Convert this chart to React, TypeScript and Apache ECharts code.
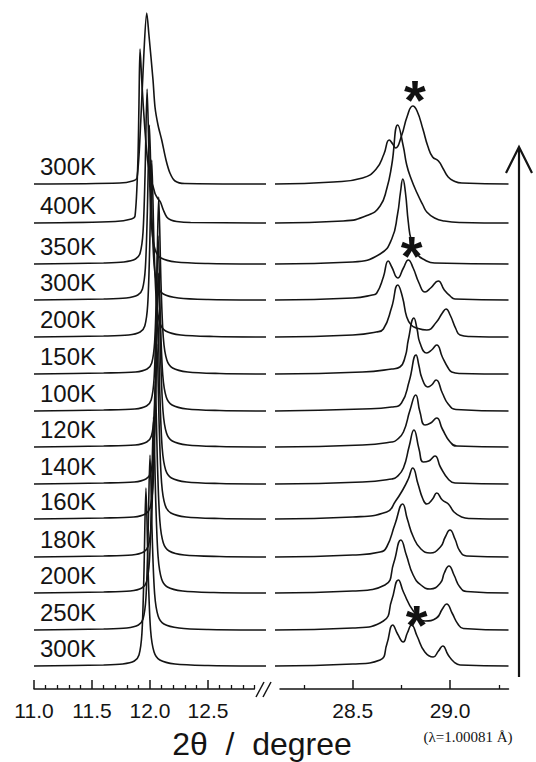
import { useEffect, useRef } from 'react';
import * as echarts from 'echarts';

// Temperature labels, top to bottom
const temperatures = ['300K', '400K', '350K', '300K', '200K', '150K', '100K', '120K', '140K', '160K', '180K', '200K', '250K', '300K'];
// Vertical stacking offset of each pattern (same order)
const offsets = [505, 466, 425, 389, 352, 315, 278, 242, 205, 170, 132, 96, 59, 23];

// Each pattern: [2θ (deg), intensity above its own baseline]
const pat300K_top = [
  [11.0, 0], [11.74, 1], [11.85, 3], [11.888, 6], [11.92, 62], [11.948, 132], [11.972, 171], [11.99, 150], [12.026, 104], [12.043, 77], [12.069, 59], [12.101, 44], [12.138, 24], [12.172, 11], [12.216, 3], [12.3, 0.5], [13.0, 0],
  [28.1, 0], [28.4, 2], [28.55, 6], [28.62, 15], [28.66, 30], [28.687, 44], [28.705, 40], [28.72, 36], [28.75, 48], [28.78, 68], [28.808, 78], [28.83, 73], [28.86, 55], [28.885, 38], [28.91, 27], [28.94, 23], [28.965, 15], [28.99, 7], [29.02, 3], [29.06, 1], [29.3, 0],
];
const pat400K = [
  [11.0, 0], [11.7, 1.5], [11.84, 4], [11.871, 7], [11.895, 60], [11.905, 120], [11.914, 174], [11.93, 140], [11.955, 95], [11.98, 62], [12.01, 42], [12.028, 36], [12.045, 29], [12.07, 24], [12.09, 21], [12.115, 13], [12.144, 6], [12.18, 3], [12.23, 1.5], [12.35, 0.5], [13.0, 0],
  [28.1, 0], [28.45, 2], [28.58, 8], [28.64, 17], [28.674, 34], [28.7, 58], [28.731, 98], [28.759, 77], [28.777, 58], [28.8, 44], [28.83, 30], [28.86, 18], [28.88, 11], [28.92, 5], [28.97, 2], [29.05, 0.5], [29.3, 0],
];
const pat350K = [
  [11.0, 0], [11.6, 1], [11.775, 2], [11.875, 5], [11.915, 11], [11.94, 32], [11.957, 88], [11.975, 175], [11.995, 90], [12.015, 36], [12.045, 14], [12.095, 6], [12.225, 2], [12.5, 0.5], [13.0, 0],
  [28.1, 0], [28.5, 2], [28.64, 10], [28.7, 25], [28.73, 50], [28.745, 72], [28.757, 85], [28.77, 72], [28.785, 42], [28.8, 24], [28.83, 10], [28.87, 4], [28.92, 1], [29.3, 0],
];
const pat300K_b = [
  [11.0, 0], [11.6, 1], [11.795, 2], [11.895, 5], [11.935, 11], [11.96, 32], [11.977, 88], [11.995, 175], [12.015, 90], [12.035, 36], [12.065, 14], [12.115, 6], [12.245, 2], [12.5, 0.5], [13.0, 0],
  [28.1, 0], [28.5, 2], [28.6, 5], [28.623, 7], [28.657, 23], [28.682, 39], [28.7, 33], [28.731, 22], [28.76, 32], [28.785, 40], [28.81, 32], [28.84, 17], [28.871, 8], [28.9, 12], [28.939, 19], [28.97, 10], [29.0, 4], [29.025, 1], [29.3, 0],
];
const pat200K_a = [
  [11.0, 0], [11.6, 1], [11.815, 2], [11.915, 5], [11.955, 11], [11.98, 32], [11.997, 88], [12.015, 177], [12.035, 90], [12.055, 36], [12.085, 14], [12.135, 6], [12.265, 2], [12.55, 0.5], [13.0, 0],
  [28.1, 0], [28.5, 2], [28.62, 5], [28.657, 8], [28.7, 30], [28.731, 52], [28.755, 40], [28.777, 20], [28.8, 12], [28.828, 9], [28.88, 7], [28.93, 15], [28.96, 24], [28.979, 28], [29.0, 22], [29.03, 8], [29.051, 2], [29.1, 0.5], [29.3, 0],
];
const pat150K = [
  [11.0, 0], [11.6, 1], [11.875, 2], [11.975, 5], [12.015, 11], [12.04, 32], [12.057, 88], [12.075, 177], [12.095, 90], [12.115, 36], [12.145, 14], [12.195, 6], [12.325, 2], [12.6, 0.5], [13.0, 0],
  [28.1, 0], [28.55, 2], [28.7, 5], [28.742, 7], [28.77, 18], [28.785, 34], [28.814, 56], [28.83, 45], [28.845, 31], [28.88, 21], [28.905, 24], [28.931, 29], [28.96, 17], [28.99, 6], [29.008, 2], [29.05, 0.5], [29.3, 0],
];
const pat100K = [
  [11.0, 0], [11.6, 1], [11.87, 2], [11.97, 5], [12.01, 11], [12.035, 32], [12.052, 88], [12.07, 175], [12.09, 90], [12.11, 36], [12.14, 14], [12.19, 6], [12.32, 2], [12.6, 0.5], [13.0, 0],
  [28.1, 0], [28.55, 2], [28.7, 4], [28.75, 8], [28.79, 30], [28.825, 56], [28.84, 45], [28.855, 33], [28.885, 24], [28.905, 26], [28.928, 31], [28.96, 18], [28.99, 7], [29.03, 1.5], [29.3, 0],
];
const pat120K = [
  [11.0, 0], [11.6, 1], [11.872, 2], [11.972, 5], [12.012, 11], [12.037, 32], [12.054, 87], [12.072, 174], [12.092, 89], [12.112, 36], [12.142, 14], [12.192, 6], [12.322, 2], [12.6, 0.5], [13.0, 0],
  [28.1, 0], [28.55, 2], [28.7, 5], [28.725, 7], [28.76, 15], [28.794, 37], [28.823, 52], [28.845, 35], [28.871, 22], [28.9, 24], [28.931, 29], [28.96, 18], [29.0, 5], [29.034, 1], [29.3, 0],
];
const pat140K = [
  [11.0, 0], [11.6, 1], [11.865, 2], [11.965, 5], [12.005, 11], [12.03, 32], [12.047, 88], [12.065, 175], [12.085, 90], [12.105, 36], [12.135, 14], [12.185, 6], [12.315, 2], [12.6, 0.5], [13.0, 0],
  [28.1, 0], [28.55, 2], [28.7, 5], [28.725, 7], [28.76, 16], [28.79, 38], [28.814, 54], [28.84, 35], [28.862, 22], [28.89, 23], [28.922, 28], [28.95, 17], [28.99, 5], [29.025, 1], [29.3, 0],
];
const pat160K = [
  [11.0, 0], [11.6, 1], [11.86, 2], [11.96, 5], [12.0, 11], [12.025, 32], [12.042, 88], [12.06, 175], [12.08, 90], [12.1, 36], [12.13, 14], [12.18, 6], [12.31, 2], [12.6, 0.5], [13.0, 0],
  [28.1, 0], [28.5, 2], [28.674, 7], [28.72, 18], [28.759, 30], [28.785, 40], [28.808, 51], [28.835, 35], [28.86, 20], [28.88, 15], [28.91, 20], [28.931, 26], [28.96, 19], [28.991, 15], [29.02, 7], [29.059, 2], [29.1, 0.5], [29.3, 0],
];
const pat180K = [
  [11.0, 0], [11.6, 1], [11.845, 2], [11.945, 5], [11.985, 11], [12.01, 32], [12.027, 88], [12.045, 176], [12.065, 90], [12.085, 36], [12.115, 14], [12.165, 6], [12.295, 2], [12.6, 0.5], [13.0, 0],
  [28.1, 0], [28.5, 2], [28.64, 5], [28.674, 10], [28.717, 33], [28.756, 53], [28.78, 38], [28.811, 20], [28.85, 8], [28.897, 4], [28.95, 10], [28.975, 20], [28.999, 27], [29.025, 18], [29.05, 6], [29.085, 1], [29.3, 0],
];
const pat200K_b = [
  [11.0, 0], [11.6, 1], [11.83, 2], [11.93, 5], [11.97, 11], [11.995, 32], [12.012, 88], [12.03, 176], [12.05, 90], [12.07, 36], [12.1, 14], [12.15, 6], [12.28, 2], [12.55, 0.5], [13.0, 0],
  [28.1, 0], [28.5, 2], [28.665, 8], [28.71, 30], [28.747, 53], [28.775, 38], [28.81, 18], [28.85, 8], [28.897, 4], [28.95, 10], [28.97, 20], [28.994, 27], [29.02, 18], [29.05, 6], [29.085, 1.5], [29.3, 0],
];
const pat250K = [
  [11.0, 0], [11.6, 1], [11.8, 2], [11.9, 5], [11.94, 11], [11.965, 32], [11.982, 88], [12.0, 175], [12.02, 90], [12.04, 36], [12.07, 14], [12.12, 6], [12.25, 2], [12.5, 0.5], [13.0, 0],
  [28.1, 0], [28.5, 2], [28.657, 9], [28.7, 30], [28.734, 50], [28.76, 38], [28.811, 19], [28.871, 9], [28.93, 12], [28.96, 21], [28.982, 26], [29.01, 17], [29.04, 6], [29.068, 1.5], [29.3, 0],
];
const pat300K_c = [
  [11.0, 0], [11.6, 1], [11.765, 2], [11.865, 5], [11.905, 11], [11.93, 32], [11.947, 89], [11.965, 178], [11.985, 91], [12.005, 36], [12.035, 14], [12.085, 6], [12.215, 2], [12.5, 0.5], [13.0, 0],
  [28.1, 0], [28.5, 2], [28.64, 6], [28.675, 22], [28.705, 41], [28.73, 32], [28.759, 24], [28.78, 33], [28.802, 41], [28.83, 30], [28.87, 14], [28.913, 9], [28.94, 15], [28.962, 20], [28.99, 11], [29.02, 4], [29.051, 1], [29.3, 0],
];

const patterns = [pat300K_top, pat400K, pat350K, pat300K_b, pat200K_a, pat150K, pat100K, pat120K, pat140K, pat160K, pat180K, pat200K_b, pat250K, pat300K_c];

// Axis ticks
const leftMajorTicks = [11.0, 11.5, 12.0, 12.5];
const leftMinorTicks = [11.1, 11.2, 11.3, 11.4, 11.6, 11.7, 11.8, 11.9, 12.1, 12.2, 12.3, 12.4, 12.6, 12.7, 12.8, 12.9];
const rightMajorTicks = [28.5, 29.0];
const rightMinorTicks = [28.25, 28.75, 29.25];

// Asterisk annotations: [2θ, height]
const asterisks = [[28.819, 597], [28.802, 441], [28.828, 72]];

const INK = '#141414';
const FONT = '"Liberation Sans", Arial, sans-serif';

export default function App() {
  const ref = useRef<HTMLDivElement>(null);
  useEffect(() => {
    if (!ref.current) return;
    const chart = echarts.init(ref.current, null, { renderer: 'svg' });
    const series: any[] = [];
    patterns.forEach((pat, i) => {
      const left = pat.filter((p) => p[0] < 20).map((p) => [p[0], p[1] + offsets[i]]);
      const right = pat.filter((p) => p[0] > 20).map((p) => [p[0], p[1] + offsets[i]]);
      const common = {
        type: 'line', showSymbol: false, silent: true,
        lineStyle: { color: INK, width: 1.6 },
      };
      series.push({ ...common, smooth: 0.3, xAxisIndex: 0, yAxisIndex: 0, data: left });
      series.push({ ...common, smooth: 0.5, xAxisIndex: 1, yAxisIndex: 1, data: right });
    });
    series.push({
      type: 'scatter', xAxisIndex: 0, yAxisIndex: 0, symbolSize: 0, silent: true,
      itemStyle: { opacity: 1 },
      data: temperatures.map((t, i) => ({ name: t, value: [11.0, offsets[i] + 18] })),
      label: { show: true, position: 'right', distance: 6, formatter: '{b}', fontSize: 24, color: INK, opacity: 1, fontFamily: FONT, textBorderWidth: 0 },
    });
    series.push({
      type: 'scatter', xAxisIndex: 1, yAxisIndex: 1, symbolSize: 0, silent: true,
      itemStyle: { opacity: 1 },
      data: asterisks,
      label: { show: true, position: 'inside', formatter: '*', fontSize: 56, fontWeight: 'bold', color: '#111', opacity: 1, textBorderWidth: 0, fontFamily: FONT, offset: [0, 7] },
    });

    const hiddenX = (grid: number, min: number, max: number) => ({ type: 'value', gridIndex: grid, min, max, show: false });
    const majorAxis = (grid: number, min: number, max: number, ticks: number[]) => ({
      type: 'value', gridIndex: grid, min, max, position: 'bottom',
      axisLine: { show: true, onZero: false, lineStyle: { color: INK, width: 1.5 } },
      axisTick: { show: true, inside: true, length: 9, customValues: ticks, lineStyle: { color: INK, width: 1.5 } },
      axisLabel: { show: true, customValues: ticks, formatter: (v: number) => v.toFixed(1), fontSize: 21, color: INK, fontFamily: FONT, margin: 11 },
      splitLine: { show: false },
    });
    const minorAxis = (grid: number, min: number, max: number, ticks: number[]) => ({
      type: 'value', gridIndex: grid, min, max, position: 'bottom',
      axisLine: { show: false, onZero: false },
      axisTick: { show: true, inside: true, length: 4, customValues: ticks, lineStyle: { color: INK, width: 1.3 } },
      axisLabel: { show: false },
      splitLine: { show: false },
    });
    const hiddenY = (grid: number) => ({ type: 'value', gridIndex: grid, min: 0, max: 689, show: false });

    chart.setOption({
      animation: false,
      backgroundColor: '#ffffff',
      textStyle: { fontFamily: FONT },
      grid: [
        { left: 34, width: 232, top: 0, bottom: 73 },
        { left: 275, width: 233.5, top: 0, bottom: 73 },
        { left: 34, width: 220.4, top: 0, bottom: 73 },
        { left: 280, width: 228.5, top: 0, bottom: 73 },
      ],
      xAxis: [
        hiddenX(0, 11.0, 13.0),
        hiddenX(1, 28.1, 29.3),
        majorAxis(2, 11.0, 12.9, leftMajorTicks),
        minorAxis(2, 11.0, 12.9, leftMinorTicks),
        majorAxis(3, 28.126, 29.3, rightMajorTicks),
        minorAxis(3, 28.126, 29.3, rightMinorTicks),
      ],
      yAxis: [hiddenY(0), hiddenY(1), hiddenY(2), hiddenY(3)],
      series,
      graphic: [
        { type: 'line', shape: { x1: 519, y1: 677, x2: 519, y2: 148 }, style: { stroke: INK, lineWidth: 2.2 } },
        { type: 'polyline', shape: { points: [[506, 173], [519, 147], [532, 173]] }, style: { stroke: INK, lineWidth: 2.2, fill: 'none' } },
        { type: 'line', shape: { x1: 256, y1: 697, x2: 264, y2: 682 }, style: { stroke: INK, lineWidth: 1.5 } },
        { type: 'line', shape: { x1: 263, y1: 697, x2: 271, y2: 682 }, style: { stroke: INK, lineWidth: 1.5 } },
        { type: 'text', x: 262, y: 744, style: { text: '2θ  /  degree', font: `32px ${FONT}`, fill: INK, align: 'center', verticalAlign: 'middle' } },
        { type: 'text', x: 468, y: 737, style: { text: '(λ=1.00081 Å)', font: '15px "Liberation Serif", "Times New Roman", serif', fill: INK, align: 'center', verticalAlign: 'middle' } },
      ],
    });
    return () => chart.dispose();
  }, []);
  return <div ref={ref} style={{ position: 'fixed', left: 0, top: 0, width: 536, height: 762 }} />;
}
